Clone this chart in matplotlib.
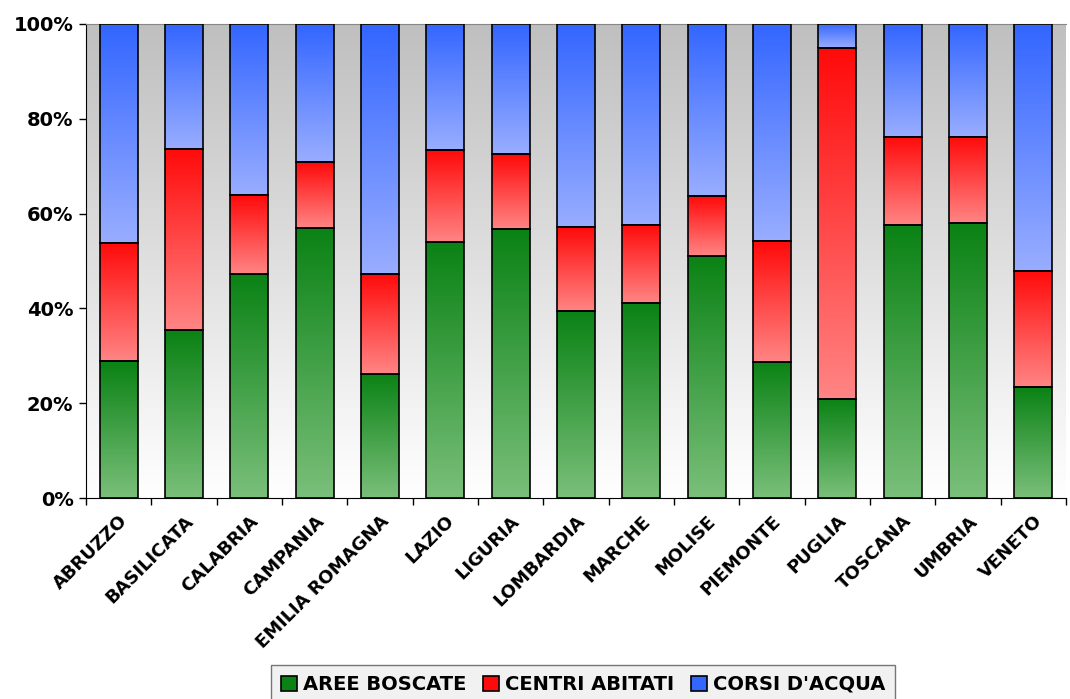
import numpy as np
import matplotlib
matplotlib.use("Agg")
import matplotlib.pyplot as plt
from matplotlib.colors import LinearSegmentedColormap
from matplotlib.patches import Rectangle

categories = ["ABRUZZO", "BASILICATA", "CALABRIA", "CAMPANIA", "EMILIA ROMAGNA",
              "LAZIO", "LIGURIA", "LOMBARDIA", "MARCHE", "MOLISE", "PIEMONTE",
              "PUGLIA", "TOSCANA", "UMBRIA", "VENETO"]
aree_boscate = [28.9, 35.4, 47.3, 57.0, 26.2, 54.0, 56.8, 39.5, 41.1, 51.1, 28.7, 20.9, 57.6, 58.0, 23.4]
centri_abitati = [24.9, 38.2, 16.6, 13.9, 21.1, 19.4, 15.8, 17.7, 16.5, 12.6, 25.5, 74.0, 18.6, 18.2, 24.5]
corsi_acqua = [46.2, 26.4, 36.1, 29.1, 52.7, 26.6, 27.4, 42.8, 42.4, 36.3, 45.8, 5.1, 23.8, 23.8, 52.1]
series_names = ["AREE BOSCATE", "CENTRI ABITATI", "CORSI D'ACQUA"]
yticks = [0, 20, 40, 60, 80, 100]

grad = {
    "AREE BOSCATE": ((0.04, 0.51, 0.08), (0.48, 0.75, 0.48)),
    "CENTRI ABITATI": ((1.0, 0.04, 0.04), (1.0, 0.52, 0.52)),
    "CORSI D'ACQUA": ((0.2, 0.4, 1.0), (0.6, 0.68, 1.0)),
}

fig = plt.figure(figsize=(10.7, 6.99), dpi=100)
ax = fig.add_axes([86/1070, 1-498/699, (1066-86)/1070, (498-24)/699])

x = np.arange(len(categories))

# background gradient (gray at top, white at bottom)
bg = np.linspace(0, 1, 256).reshape(-1, 1)
bgcmap = LinearSegmentedColormap.from_list("bg", [(0.75, 0.75, 0.75), (1, 1, 1)])
ax.imshow(bg, cmap=bgcmap, extent=(-0.5, len(categories) - 0.5, 0, 100),
          aspect="auto", zorder=0, origin="upper")

bottom = np.zeros(len(categories))
width = 0.58
gvals = np.linspace(0, 1, 256).reshape(-1, 1)
handles = []
for name, vals in zip(series_names, [aree_boscate, centri_abitati, corsi_acqua]):
    vals = np.array(vals)
    top_c, bot_c = grad[name]
    cmap = LinearSegmentedColormap.from_list(name, [top_c, bot_c])
    bars = ax.bar(x, vals, width, bottom=bottom, facecolor="none",
                  edgecolor="black", linewidth=1.2, zorder=3)
    for b in bars:
        x0, y0 = b.get_x(), b.get_y()
        w, h = b.get_width(), b.get_height()
        ax.imshow(gvals, cmap=cmap, extent=(x0, x0 + w, y0, y0 + h),
                  aspect="auto", origin="upper", zorder=2)
    bottom = bottom + vals
    handles.append(Rectangle((0, 0), 1, 1, facecolor=top_c, edgecolor="black", linewidth=1.2))

ax.set_xlim(-0.5, len(categories) - 0.5)
ax.set_ylim(0, 100)

ax.set_yticks(yticks)
ax.set_yticklabels([f"{v}%" for v in yticks], fontsize=14, fontweight="bold")
ax.set_xticks(x)
ax.set_xticklabels(categories, rotation=45, ha="right", rotation_mode="anchor",
                   fontsize=13, fontweight="bold")
ax.tick_params(axis="x", length=0, pad=10)
ax.set_xticks(np.arange(-0.5, len(categories), 1), minor=True)
ax.tick_params(axis="x", which="minor", length=5, width=1, color="black")
ax.tick_params(axis="y", length=5, width=1, color="black", pad=4)

ax.spines["left"].set_color("black")
ax.spines["bottom"].set_color("black")
ax.spines["top"].set_color("#888888")
ax.spines["right"].set_visible(False)

leg = fig.legend(handles, series_names, loc="lower center", bbox_to_anchor=(0.545, -0.015),
                 ncol=3, frameon=True, fancybox=False, edgecolor="#555555",
                 prop={"weight": "bold", "size": 14}, handlelength=0.8, handleheight=0.8,
                 handletextpad=0.3, columnspacing=0.9, borderpad=0.5, borderaxespad=0.3)
leg.get_frame().set_facecolor("#eeeeee")
leg.get_frame().set_linewidth(1.0)

fig.canvas.draw()
# tighten horizontal padding of the legend frame
frame = leg.get_frame()
bb = frame.get_bbox()
fig.savefig("out.png", dpi=100)
